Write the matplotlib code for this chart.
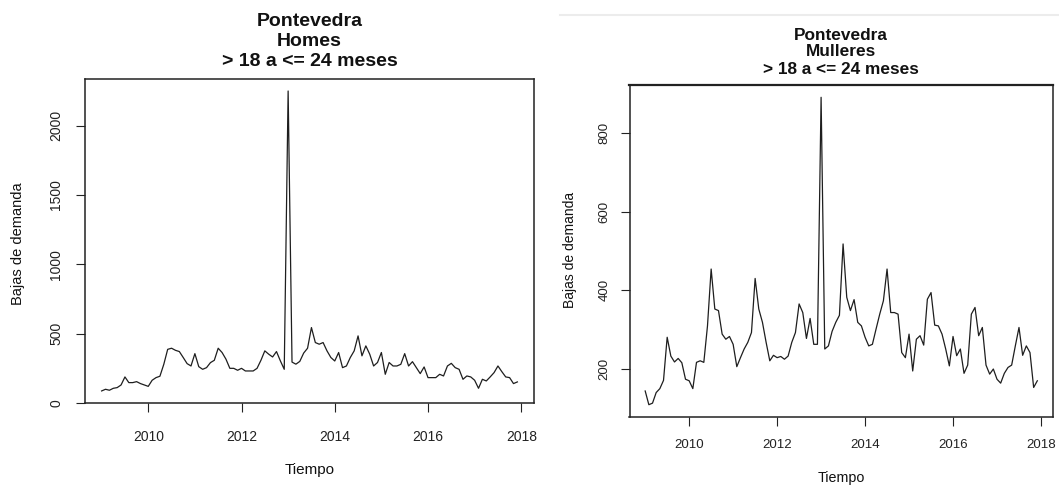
import numpy as np
import matplotlib
matplotlib.use("Agg")
import matplotlib.pyplot as plt
from matplotlib.lines import Line2D

plt.rcParams['font.family'] = ['Liberation Sans', 'DejaVu Sans']

# Monthly series, January 2009 - December 2017
start_year = 2009
homes = [
    87, 99, 92, 106, 111, 130, 188, 147, 147, 154, 140, 130,
    120, 164, 183, 193, 279, 387, 395, 380, 371, 328, 284, 267,
    356, 262, 243, 255, 291, 308, 395, 364, 316, 250, 250, 236,
    250, 231, 231, 231, 250, 308, 376, 352, 332, 371, 304, 243,
    2250, 295, 280, 300, 360, 395, 544, 436, 424, 436, 376, 328,
    303, 364, 255, 267, 328, 376, 484, 340, 412, 352, 267, 292,
    364, 207, 292, 267, 267, 279, 356, 267, 298, 255, 212, 260,
    183, 183, 183, 207, 195, 267, 286, 255, 243, 171, 195, 188,
    164, 106, 171, 159, 188, 219, 267, 226, 188, 183, 140, 152,
]
mulleres = [
    143, 108, 112, 139, 149, 170, 280, 232, 217, 226, 215, 173,
    169, 149, 216, 220, 216, 309, 454, 352, 348, 288, 275, 282,
    262, 205, 228, 250, 267, 292, 430, 352, 318, 267, 220, 234,
    228, 231, 224, 232, 267, 292, 365, 343, 277, 328, 262, 262,
    892, 250, 258, 295, 318, 336, 518, 382, 348, 376, 318, 309,
    280, 258, 262, 301, 339, 373, 454, 343, 343, 339, 241, 228,
    288, 194, 275, 284, 260, 377, 394, 311, 309, 288, 250, 207,
    282, 233, 250, 188, 209, 339, 356, 284, 305, 209, 186, 199,
    173, 163, 188, 203, 209, 258, 305, 234, 258, 241, 152, 169,
]
title_top = "Pontevedra"
group_homes = "Homes"
group_mulleres = "Mulleres"
title_bottom = "> 18 a <= 24 meses"
xlabel = "Tiempo"
ylabel = "Bajas de demanda"
x_ticks = [2010, 2012, 2014, 2016, 2018]
y_ticks_homes = [0, 500, 1000, 1500, 2000]
y_ticks_mulleres = [200, 400, 600, 800]

W, H = 1059, 486
fig = plt.figure(figsize=(W / 100, H / 100), dpi=100)


def px_axes(x0, y0, x1, y1):
    return fig.add_axes([x0 / W, 1 - y1 / H, (x1 - x0) / W, (y1 - y0) / H])


def style_ts(ax, t, y, yticks, tick_fs, tick_len, xpad, ypad):
    ax.plot(t, y, color='#1e1e1e', lw=0.9)
    ax.margins(x=0.04, y=0.04)
    ax.set_xticks(x_ticks)
    ax.set_yticks(yticks)
    for s in ax.spines.values():
        s.set_visible(True)
        s.set_color('#222222')
        s.set_linewidth(1.1)
        s.set_zorder(5)
    ax.tick_params(axis='both', direction='out', length=tick_len, width=0.8,
                   color='#222222', labelsize=tick_fs, labelcolor='#222222')
    ax.tick_params(axis='x', pad=xpad)
    ax.tick_params(axis='y', pad=ypad)
    for lab in ax.get_yticklabels():
        lab.set_rotation(90)
        lab.set_va('center')
        lab.set_ha('right')


def ftext(x, y, s, **kw):
    fig.text(x / W, 1 - y / H, s, ha='center', va='center', color='#111111', **kw)


t = start_year + np.arange(len(homes)) / 12.0

# Homes panel
ax1 = px_axes(85, 79, 534, 403)
style_ts(ax1, t, homes, y_ticks_homes, 10, 6.5, 13, 9)
ftext(309.5, 22, title_top, fontsize=14, fontweight='bold')
ftext(309.5, 42, group_homes, fontsize=14, fontweight='bold')
ftext(309.5, 62, title_bottom, fontsize=14, fontweight='bold')
ftext(309.5, 470, xlabel, fontsize=11)
fig.text(18 / W, 1 - 244 / H, ylabel, rotation=90, ha='center', va='center',
         fontsize=10.5, color='#111111')

# Mulleres panel
t2 = start_year + np.arange(len(mulleres)) / 12.0
ax2 = px_axes(629.5, 85, 1053, 417)
style_ts(ax2, t2, mulleres, y_ticks_mulleres, 9.5, 6.5, 9, 7)
ax2.spines['top'].set_linewidth(1.6)
ftext(841, 35, title_top, fontsize=12.4, fontweight='bold')
ftext(841, 52, group_mulleres, fontsize=12.4, fontweight='bold')
ftext(841, 70, title_bottom, fontsize=12.4, fontweight='bold')
ftext(841, 478, xlabel, fontsize=10.3)
fig.text(570 / W, 1 - 250 / H, ylabel, rotation=90, ha='center', va='center',
         fontsize=10, color='#111111')

# thin separator above the second panel
fig.add_artist(Line2D([560 / W, 1.0], [1 - 15 / H, 1 - 15 / H], color='#ececec', lw=1.5))

fig.savefig("out.png", dpi=100, facecolor='white')
